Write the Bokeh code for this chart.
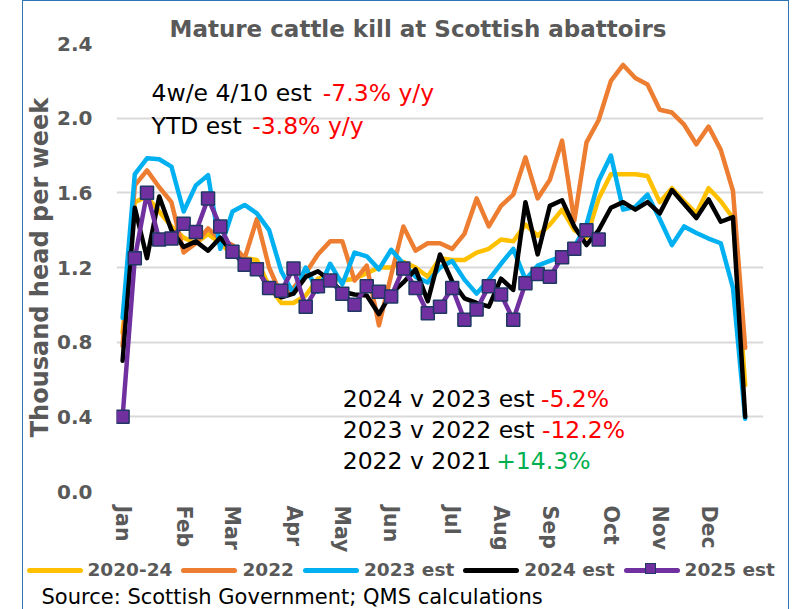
from bokeh.plotting import figure
from bokeh.models import Range1d, FixedTicker, PrintfTickFormatter, Div
from bokeh.layouts import column
from bokeh.core.properties import value
from bokeh.embed import file_html
from bokeh.resources import INLINE

# ---- data (thousand head per week, week index 0 = first week of Jan) ----
month_ticks = [0, 5, 9, 14, 18, 22, 27, 31, 35, 40, 44, 48]
month_labels = ["Jan", "Feb", "Mar", "Apr", "May", "Jun", "Jul", "Aug", "Sep", "Oct", "Nov", "Dec"]
y_ticks = [0.0, 0.4, 0.8, 1.2, 1.6, 2.0, 2.4]

avg_2020_24 = [0.85, 1.55, 1.58, 1.50, 1.42, 1.36, 1.33, 1.38, 1.33, 1.27,
               1.25, 1.24, 1.10, 1.01, 1.01, 1.05, 1.14, 1.15, 1.13, 1.14,
               1.17, 1.20, 1.20, 1.23, 1.20, 1.15, 1.25, 1.24, 1.24, 1.28,
               1.30, 1.35, 1.34, 1.43, 1.37, 1.43, 1.51, 1.40, 1.36, 1.57,
               1.70, 1.70, 1.70, 1.69, 1.55, 1.625, 1.555, 1.49, 1.625, 1.555,
               1.465, 0.57]
y2022 = [0.78, 1.64, 1.72, 1.63, 1.55, 1.28, 1.33, 1.41, 1.35, 1.32,
         1.25, 1.46, 1.20, 1.05, 1.09, 1.17, 1.27, 1.34, 1.34, 1.13,
         1.21, 0.89, 1.16, 1.42, 1.29, 1.33, 1.33, 1.30, 1.38, 1.57,
         1.42, 1.53, 1.59, 1.79, 1.57, 1.67, 1.88, 1.45, 1.87, 1.99,
         2.20, 2.285, 2.215, 2.18, 2.045, 2.03, 1.965, 1.86, 1.955, 1.83,
         1.61, 0.77]
y2023 = [0.93, 1.70, 1.785, 1.78, 1.74, 1.50, 1.64, 1.695, 1.30, 1.50,
         1.535, 1.49, 1.40, 1.18, 1.06, 1.20, 1.07, 1.22, 1.11, 1.28,
         1.26, 1.19, 1.295, 1.22, 1.15, 1.12, 1.20, 1.235, 1.135, 1.06,
         1.135, 1.22, 1.30, 1.135, 1.21, 1.235, 1.26, 1.31, 1.43, 1.665,
         1.80, 1.51, 1.525, 1.59, 1.46, 1.32, 1.42, 1.385, 1.355, 1.33,
         1.09, 0.39]
y2024 = [0.70, 1.52, 1.25, 1.58, 1.40, 1.31, 1.34, 1.29, 1.36, 1.28,
         1.22, 1.20, 1.08, 1.04, 1.06, 1.15, 1.18, 1.13, 1.07, 1.055,
         1.05, 0.95, 1.06, 1.12, 1.19, 1.02, 1.27, 1.125, 1.035, 1.01,
         0.99, 1.14, 1.08, 1.55, 1.27, 1.53, 1.56, 1.42, 1.32, 1.40,
         1.52, 1.55, 1.51, 1.55, 1.49, 1.615, 1.54, 1.465, 1.565, 1.445,
         1.47, 0.40]
y2025 = [0.40, 1.25, 1.60, 1.35, 1.355, 1.435, 1.39, 1.57, 1.42, 1.285,
         1.215, 1.19, 1.09, 1.075, 1.195, 0.99, 1.10, 1.13, 1.06, 1.00,
         1.10, 1.07, 1.045, 1.195, 1.09, 0.955, 0.99, 1.09, 0.92, 0.975,
         1.10, 1.055, 0.92, 1.115, 1.165, 1.15, 1.255, 1.30, 1.40, 1.35]

series_names = ["2020-24", "2022", "2023 est", "2024 est", "2025 est"]
series_colors = ["#FFC000", "#ED7D31", "#00B0F0", "#000000", "#7030A0"]
MARKER_EDGE = "#1F3864"

FONT = "DejaVu Sans"
GREY = "#595959"

p = figure(width=755, height=554, x_range=Range1d(-0.5, 52.5), y_range=Range1d(0, 2.4),
           output_backend="svg", toolbar_location=None,
           min_border_left=92, min_border_right=15, min_border_top=42, min_border_bottom=64)
p.outline_line_color = None
p.background_fill_color = "white"
p.border_fill_color = "white"

# title
p.title.text = "Mature cattle kill at Scottish abattoirs"
p.title.text_font = FONT
p.title.text_font_size = "23px"
p.title.text_font_style = "bold"
p.title.text_color = GREY
p.title.align = "left"
p.title.offset = 53
p.title.standoff = 4

# axes
p.xaxis.ticker = FixedTicker(ticks=month_ticks)
p.xaxis.major_label_overrides = {t: m for t, m in zip(month_ticks, month_labels)}
p.xaxis.major_label_orientation = "vertical"
p.yaxis.ticker = FixedTicker(ticks=y_ticks)
p.yaxis.formatter = PrintfTickFormatter(format="%.1f")
p.yaxis.axis_label = "Thousand head per week"
for ax in (p.xaxis[0], p.yaxis[0]):
    ax.axis_line_color = None
    ax.major_tick_line_color = None
    ax.minor_tick_line_color = None
    ax.major_tick_out = 0
    ax.major_tick_in = 0
    ax.major_label_text_font = FONT
    ax.major_label_text_font_style = "bold"
    ax.major_label_text_color = GREY
p.xaxis.major_label_text_font_size = "20.5px"
p.yaxis.major_label_text_font_size = "20px"
p.xaxis.major_label_standoff = 14
p.yaxis.major_label_standoff = 24
p.yaxis.axis_label_text_font = FONT
p.yaxis.axis_label_text_font_style = "bold"
p.yaxis.axis_label_text_font_size = "24px"
p.yaxis.axis_label_text_color = GREY
p.yaxis.axis_label_standoff = 0

p.xgrid.grid_line_color = None
p.ygrid.ticker = FixedTicker(ticks=y_ticks)
p.ygrid.grid_line_color = "#D9D9D9"
p.ygrid.grid_line_width = 2

# series
all_series = [avg_2020_24, y2022, y2023, y2024, y2025]
for name, col, vals in zip(series_names, series_colors, all_series):
    xs = list(range(len(vals)))
    p.line(xs, vals, line_color=col, line_width=4.5, line_join="round", line_cap="round")
    if name == "2025 est":
        p.scatter(xs, vals, marker="square", size=13, fill_color=col,
                  line_color=MARKER_EDGE, line_width=1.5)

# annotation texts
ann_x = [2.37, 16.4, 2.37, 10.62, 18.03, 34.27, 18.03, 34.35, 18.03, 30.6]
ann_y = [2.136, 2.136, 1.96, 1.96, 0.495, 0.495, 0.329, 0.329, 0.163, 0.163]
ann_text = ["4w/e 4/10 est", "-7.3% y/y", "YTD est", "-3.8% y/y",
            "2024 v 2023 est", "-5.2%", "2023 v 2022 est", "-12.2%",
            "2022 v 2021", "+14.3%"]
ann_color = ["#000000", "#FF0000", "#000000", "#FF0000",
             "#000000", "#FF0000", "#000000", "#FF0000",
             "#000000", "#00B050"]
p.text(x=ann_x, y=ann_y, text=ann_text, text_color=ann_color,
       text_font=value(FONT), text_font_size="23.5px",
       text_baseline="alphabetic", text_align="left")

# ---- legend + source strip (HTML) ----
parts = []
for name, col in zip(series_names, series_colors):
    square = ""
    if name == "2025 est":
        square = (f'<span style="position:absolute;left:21px;top:-4.5px;width:11px;height:11px;'
                  f'background:{col};border:1.5px solid {MARKER_EDGE};"></span>')
    parts.append(
        f'<span style="position:relative;display:inline-block;width:56px;height:5px;'
        f'border-radius:2.5px;background:{col};margin-right:5px;">{square}</span>'
        f'<span style="font-weight:bold;font-size:18.5px;color:{GREY};margin-right:9px;">{name}</span>'
    )
legend_html = (
    f'<div style="position:relative;width:755px;height:51px;font-family:\'{FONT}\';">'
    f'<div style="position:absolute;left:-1.5px;top:0px;height:20px;display:flex;'
    f'align-items:center;white-space:nowrap;line-height:20px;">' + "".join(parts) + '</div>'
    f'<div style="position:absolute;left:13.5px;top:27px;font-size:21px;line-height:21px;'
    f'color:#000000;white-space:nowrap;">Source: Scottish Government; QMS calculations</div>'
    '</div>'
)
q = Div(text=legend_html, width=755, height=51)

layout = column(p, q, spacing=0, margin=(0, 0, 0, 22),
                styles={"border": "1.5px solid #2E75B6"})

open("out.html", "w").write(file_html(layout, INLINE))
